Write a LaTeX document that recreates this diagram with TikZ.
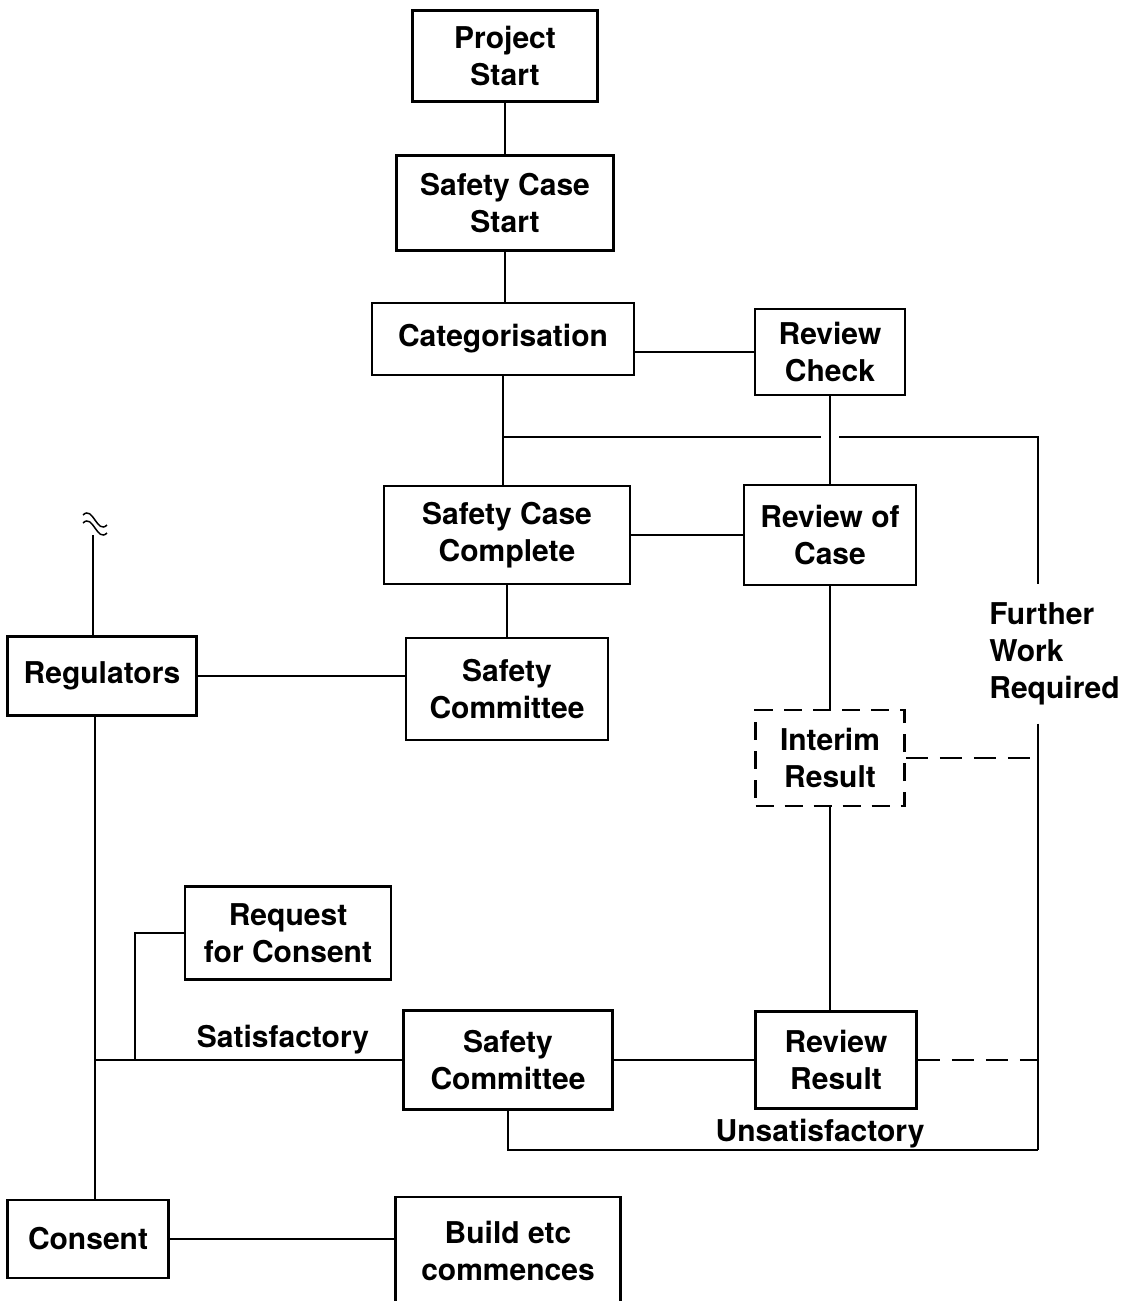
\documentclass[tikz,border=0pt]{standalone}
\usepackage{fontspec}
\setmainfont{TeX Gyre Heros}
\begin{document}
\begin{tikzpicture}[x=1pt,y=-1pt,line width=2pt,
    every node/.style={font=\bfseries\fontsize{30}{37}\selectfont},
    box/.style={draw,line width=2.5pt,align=center,inner sep=0pt},
    dbox/.style={box,dash pattern=on 18pt off 11pt},
    dline/.style={dash pattern=on 22pt off 12pt}]
    \useasboundingbox (0,0) rectangle (1131,1301);
    \node[box,minimum width=185,minimum height=91] (start) at (505,56) {Project\\Start};
    \node[box,minimum width=217,minimum height=95] (scstart) at (505,203) {Safety Case\\Start};
    \node[box,minimum width=262,minimum height=72] (categ) at (503,339) {Categorisation};
    \node[box,minimum width=150,minimum height=86] (revcheck) at (830,352) {Review\\Check};
    \node[box,minimum width=246,minimum height=98] (sccomplete) at (507,535) {Safety Case\\Complete};
    \node[box,minimum width=172,minimum height=100] (revcase) at (830,535) {Review of\\Case};
    \node[box,minimum width=189,minimum height=79] (regul) at (102,676) {Regulators};
    \node[box,minimum width=202,minimum height=102] (safecomm) at (507,689) {Safety\\Committee};
    \node[dbox,minimum width=149,minimum height=96] (interim) at (830,758) {Interim\\Result};
    \node[box,minimum width=206,minimum height=93] (request) at (288,933) {Request\\for Consent};
    \node[box,minimum width=209,minimum height=99] (safecomm2) at (508,1060) {Safety\\Committee};
    \node[box,minimum width=161,minimum height=97] (revresult) at (836,1060) {Review\\Result};
    \node[box,minimum width=161,minimum height=78] (consent) at (88,1239) {Consent};
    \node[box,minimum width=225,minimum height=108] (build) at (508,1251) {Build etc\\commences};
    \node[anchor=west,align=left] (fwr) at (985,654) {Further\\Work\\Required};
    \node (sat) at (283,1040) {Satisfactory};
    \node (unsat) at (820,1134) {Unsatisfactory};
    % corner points of the long loops
    \coordinate (rtop) at (1038,437);
    \coordinate (rbot) at (1038,1150);
    \coordinate (lsat) at (95,1060);
    \coordinate (lreq) at (135,1060);
    % main column
    \draw (start) -- (scstart);
    \draw (scstart) -- (categ.north -| scstart);
    \draw (categ.south) -- (categ.south |- sccomplete.north);
    \draw (categ.east |- revcheck) -- (revcheck.west);
    \draw (revcheck.south) -- (revcheck.south |- revcase.north);
    \draw (sccomplete.east |- revcase) -- (revcase.west);
    \draw (sccomplete.south) -- (sccomplete.south |- safecomm.north);
    \draw (regul.east) -- (regul.east -| safecomm.west);
    \draw (revcase.south) -- (interim.north);
    \draw (interim.south) -- (interim.south |- revresult.north);
    \draw (safecomm2.east) -- (revresult.west);
    % further work loop
    \draw (categ.south |- rtop) -- ([xshift=-9pt]revcheck.south |- rtop);
    \draw ([xshift=9pt]revcheck.south |- rtop) -- (rtop) -- ([yshift=14pt]rtop |- fwr.north);
    \draw ([yshift=-14pt]rtop |- fwr.south) -- (rbot);
    \draw[dline] (interim.east) -- (interim.east -| rtop);
    \draw[dline] (revresult.east) -- (revresult.east -| rtop);
    \draw (safecomm2.south) -- (safecomm2.south |- rbot) -- (rbot);
    % regulators to consent
    \draw ([xshift=-7pt]regul.south) -- ([xshift=-7pt]regul.south |- consent.north);
    \draw (lsat) -- (lsat -| safecomm2.west);
    \draw (lreq) -- (lreq |- request.west) -- (request.west);
    \draw (consent.east) -- (consent.east -| build.west);
    % line off to the regulators
    \draw[line width=1.5pt] ([xshift=-9pt]regul.north) -- ++(0,-100);
    \draw[line width=1.5pt] (83,515) .. controls (93,505) and (97,535) .. (107,525);
    \draw[line width=1.5pt] (83,523) .. controls (93,513) and (97,543) .. (107,533);
\end{tikzpicture}
\end{document}
